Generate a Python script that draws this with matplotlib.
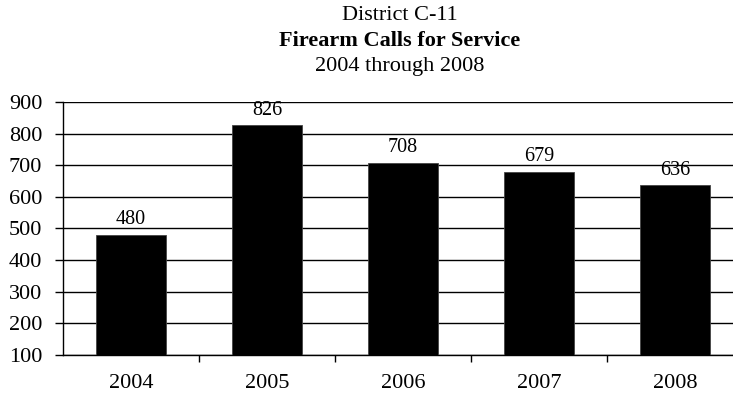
import matplotlib
matplotlib.use("Agg")
import matplotlib.pyplot as plt
import numpy as np

years = ["2004", "2005", "2006", "2007", "2008"]
calls = [480, 826, 708, 679, 636]
y_ticks = [100, 200, 300, 400, 500, 600, 700, 800, 900]

plt.rcParams['font.family'] = ['Liberation Serif', 'DejaVu Serif']

fig = plt.figure(figsize=(7.33, 3.96), dpi=100)
ax = fig.add_axes([63/733, 41/396, 680/733, 253/396])

x = np.arange(len(years))
ax.bar(x, calls, width=0.51, color='black', edgecolor='#444444', linewidth=0.6,
       zorder=3)
for xi, v in zip(x, calls):
    ax.annotate(str(v), (xi, v), xytext=(0, 4), textcoords='offset points',
                ha='center', va='bottom', fontsize=14.5, zorder=4)

ax.set_ylim(100, 900)
ax.set_xlim(-0.5, len(years) - 0.5)
ax.set_yticks(y_ticks)
ax.yaxis.grid(True, color='black', linewidth=1.0, zorder=0)
ax.set_axisbelow(True)

# category labels centered, tick marks at boundaries
ax.set_xticks(x)
ax.set_xticklabels(years, fontsize=16)
ax.tick_params(axis='x', which='major', length=0, pad=14)
ax.set_xticks(np.arange(0.5, len(years) - 1, 1.0), minor=True)
ax.tick_params(axis='x', which='minor', length=5, width=1, direction='out')
ax.tick_params(axis='y', labelsize=16, length=6, width=1, pad=9)

for s in ['top', 'right']:
    ax.spines[s].set_visible(False)
ax.spines['left'].set_linewidth(1.0)
ax.spines['bottom'].set_linewidth(1.0)

cx = 400 / 733
fig.text(cx, 1 - 15/396, "District C-11", ha='center', va='center', fontsize=16)
fig.text(cx, 1 - 41/396, "Firearm Calls for Service", ha='center', va='center',
         fontsize=16, fontweight='bold')
fig.text(cx, 1 - 66/396, "2004 through 2008", ha='center', va='center', fontsize=16)

fig.savefig("out.png", dpi=100)
